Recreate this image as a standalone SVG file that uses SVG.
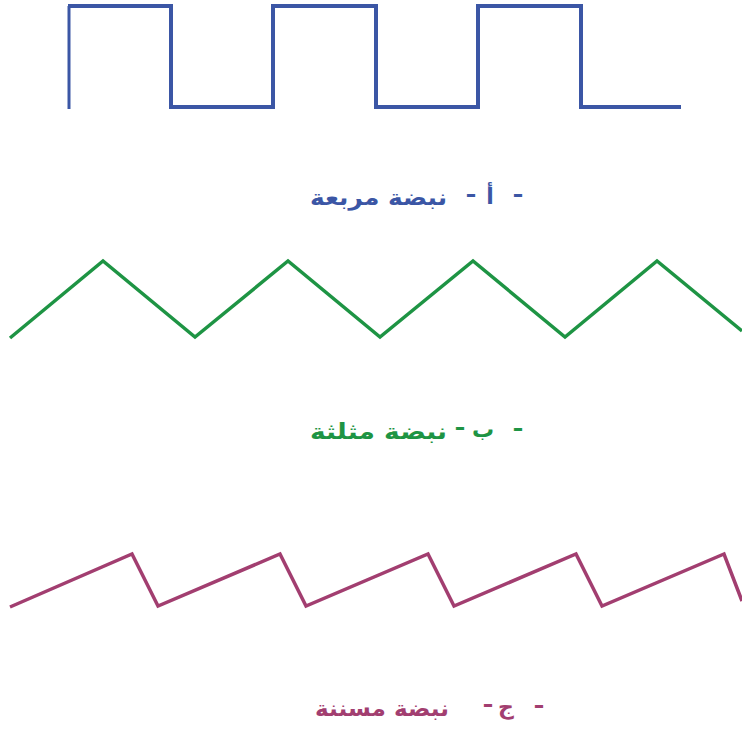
<svg xmlns="http://www.w3.org/2000/svg" width="742" height="732" viewBox="0 0 742 732">
<style>
.w{fill:none;stroke-linejoin:miter;stroke-linecap:butt}
.t{font-family:"DejaVu Sans",sans-serif;font-weight:bold;font-size:22px}
.d{font-family:"DejaVu Sans",sans-serif;font-weight:bold;font-size:22px;text-anchor:middle}
.b{fill:#3b56a5}.g{fill:#1e9444}.m{fill:#a23e70}
</style>
<rect width="742" height="732" fill="#fff"/>
<g id="square-wave">
<line x1="69" y1="109" x2="69" y2="6" stroke="#3b56a5" stroke-width="3"/>
<polyline class="w" stroke="#3b56a5" stroke-width="4" points="68,6 171,6 171,107 273,107 273,6 376,6 376,107 478,107 478,6 581,6 581,107 681,107"/>
<g id="label-a">
<text class="d b" x="518" y="202" textLength="11" lengthAdjust="spacingAndGlyphs">-</text>
<text class="t b" x="490" y="204" text-anchor="middle">أ</text>
<text class="d b" x="471" y="202" textLength="11" lengthAdjust="spacingAndGlyphs">-</text>
<text class="t b" x="447" y="205" text-anchor="end" textLength="137" lengthAdjust="spacingAndGlyphs">نبضة مربعة</text>
</g>
</g>
<g id="triangle-wave">
<polyline class="w" stroke="#1e9444" stroke-width="3.5" points="10,338 103,261 195,337 288,261 380,337 473,261 565,337 657,261 742,331"/>
<g id="label-b">
<text class="d g" x="518" y="436" textLength="11" lengthAdjust="spacingAndGlyphs">-</text>
<text class="t g" x="483" y="437" text-anchor="middle">ب</text>
<text class="d g" x="460" y="435" textLength="11" lengthAdjust="spacingAndGlyphs">-</text>
<text class="t g" x="447" y="439" text-anchor="end" textLength="137" lengthAdjust="spacingAndGlyphs">نبضة مثلثة</text>
</g>
</g>
<g id="sawtooth-wave">
<polyline class="w" stroke="#a23e70" stroke-width="3.5" points="10,607 132,554 158,606 280,554 306,606 428,554 454,606 576,554 602,606 724,554 742,601"/>
<g id="label-c">
<text class="d m" x="539" y="713" textLength="11" lengthAdjust="spacingAndGlyphs">-</text>
<text class="t m" x="506" y="714" text-anchor="middle">ج</text>
<text class="d m" x="488" y="712" textLength="11" lengthAdjust="spacingAndGlyphs">-</text>
<text class="t m" x="449" y="716" text-anchor="end" textLength="134" lengthAdjust="spacingAndGlyphs">نبضة مسننة</text>
</g>
</g>
</svg>
